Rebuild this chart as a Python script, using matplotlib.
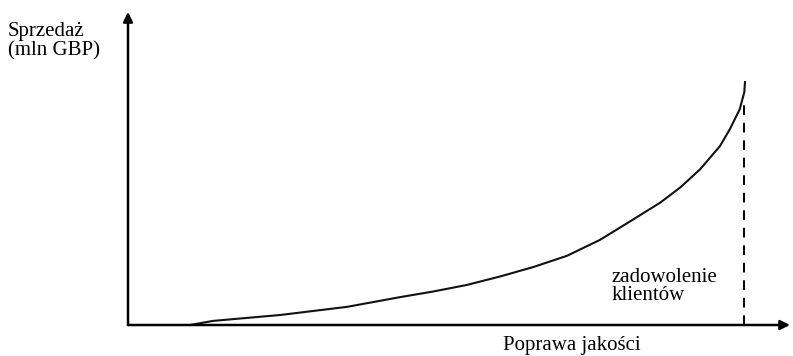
import matplotlib
matplotlib.use("Agg")
import matplotlib.pyplot as plt

# quality improvement (x) vs sales (y), axis range 0-100
quality = [9.4, 12.8, 23.0, 33.1, 41.1, 46.1, 51.2, 56.2, 61.2, 66.3, 71.3, 76.3,
           80.4, 83.4, 86.4, 89.4, 90.9, 92.4, 93.1, 93.2]
sales = [0.0, 1.3, 3.2, 5.8, 8.9, 10.7, 12.8, 15.5, 18.5, 22.1, 27.2, 33.7,
         39.1, 43.9, 49.7, 57.1, 62.5, 68.9, 74.4, 77.6]
satisfaction_x = 93.1
satisfaction_top = 72.1

y_label = "Sprzedaż\n(mln GBP)"
x_label = "Poprawa jakości"
marker_label = "zadowolenie\nklientów"

plt.rcParams['font.family'] = ['Liberation Serif', 'DejaVu Serif']

fig = plt.figure(figsize=(7.93, 3.56), dpi=100)
ax = fig.add_axes([128 / 793, 31 / 356, 662 / 793, 313 / 356])
ax.set_xlim(0, 100)
ax.set_ylim(0, 100)
ax.axis('off')

# axes with arrow heads
arrow = dict(arrowstyle='-|>', color='black', lw=1.8, mutation_scale=14, shrinkA=0, shrinkB=0)
ax.annotate('', xy=(100, 0), xytext=(0, 0), arrowprops=arrow, annotation_clip=False)
ax.annotate('', xy=(0, 100), xytext=(0, 0), arrowprops=arrow, annotation_clip=False)

# curve
ax.plot(quality, sales, color='#111111', lw=1.5, solid_joinstyle='round', clip_on=False)

# dashed drop line at customer satisfaction point
ax.plot([satisfaction_x, satisfaction_x], [0, satisfaction_top], color='black', lw=1.4,
        linestyle=(0, (5, 4)), clip_on=False)

ax.text(73.0, 8.0, marker_label, fontsize=15, ha='left', va='baseline', linespacing=0.95)
fig.text(8 / 793, (356 - 55) / 356, y_label, fontsize=15, ha='left', va='baseline', linespacing=0.95)
fig.text(503 / 793, (356 - 350) / 356, x_label, fontsize=15, ha='left', va='baseline')

fig.savefig('out.png', dpi=100)
